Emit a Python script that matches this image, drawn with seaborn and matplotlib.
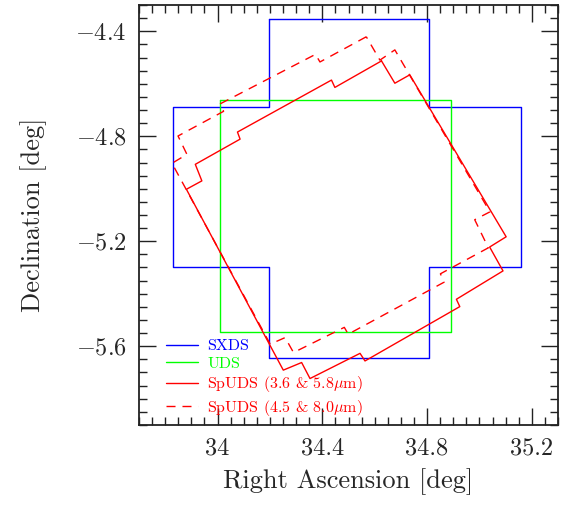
import matplotlib
matplotlib.use("Agg")
import matplotlib.pyplot as plt
from matplotlib.ticker import MultipleLocator
import seaborn as sns
import pandas as pd

# ---- data (RA, Dec in degrees) ----
sxds_ra = [34.195, 34.807, 34.807, 35.160, 35.160, 34.807, 34.807, 34.195, 34.195, 33.830, 33.830, 34.195, 34.195]
sxds_dec = [-4.355, -4.355, -4.690, -4.690, -5.300, -5.300, -5.645, -5.645, -5.300, -5.300, -4.690, -4.690, -4.355]

uds_ra = [34.008, 34.890, 34.890, 34.008, 34.008]
uds_dec = [-4.662, -4.662, -5.544, -5.544, -4.662]

spuds_a_ra = [34.626, 34.448, 34.435, 34.076, 34.086, 33.915, 33.940, 33.881, 34.251, 34.321, 34.353,
              34.544, 34.563, 34.925, 34.912, 35.090, 35.039, 35.102, 34.734, 34.677, 34.626]
spuds_a_dec = [-4.513, -4.614, -4.586, -4.784, -4.811, -4.907, -4.970, -5.002, -5.691, -5.662, -5.723,
               -5.627, -5.656, -5.449, -5.421, -5.313, -5.222, -5.183, -4.566, -4.598, -4.513]

spuds_b_ra = [34.568, 34.391, 34.374, 34.011, 34.023, 33.849, 33.883, 33.826, 34.201, 34.258, 34.290,
              34.484, 34.499, 34.865, 34.851, 35.034, 34.982, 35.040, 34.677, 34.620, 34.568]
spuds_b_dec = [-4.421, -4.517, -4.488, -4.676, -4.705, -4.799, -4.869, -4.903, -5.592, -5.567, -5.624,
               -5.528, -5.554, -5.356, -5.324, -5.225, -5.118, -5.088, -4.471, -4.510, -4.421]

labels = ["SXDS", "UDS", r"SpUDS (3.6 & 5.8$\mu$m)", r"SpUDS (4.5 & 8.0$\mu$m)"]
colors = ["#0000ff", "#00ff00", "#ff0000", "#ff0000"]

xticks = [34.0, 34.4, 34.8, 35.2]
xticklabels = ["34", "34.4", "34.8", "35.2"]
yticks = [-5.6, -5.2, -4.8, -4.4]

sns.set_style("ticks")
plt.rcParams["font.family"] = ["cmr10", "DejaVu Serif"]
plt.rcParams["mathtext.fontset"] = "cm"
plt.rcParams["axes.formatter.use_mathtext"] = True
plt.rcParams["lines.scale_dashes"] = False

fig = plt.figure(figsize=(5.73, 5.05), dpi=100)
ax = fig.add_axes([139 / 573, 1 - 425 / 505, 419 / 573, 420 / 505])

series = [(sxds_ra, sxds_dec), (uds_ra, uds_dec), (spuds_a_ra, spuds_a_dec), (spuds_b_ra, spuds_b_dec)]
styles = ["-", "-", "-", (0, (6.5, 5.0))]
for (ra, dec), lab, col, ls in zip(series, labels, colors, styles):
    df = pd.DataFrame({"ra": ra, "dec": dec})
    sns.lineplot(data=df, x="ra", y="dec", sort=False, estimator=None, color=col,
                 linewidth=1.0, linestyle=ls, label=lab, ax=ax)

ax.set_xlim(33.7, 35.3)
ax.set_ylim(-5.9, -4.3)
ax.set_xticks(xticks)
ax.set_xticklabels(xticklabels)
ax.set_yticks(yticks)
ax.xaxis.set_minor_locator(MultipleLocator(0.05))
ax.yaxis.set_minor_locator(MultipleLocator(0.05))
ax.tick_params(which="both", direction="in", top=True, right=True, color="#222222")
ax.tick_params(which="major", length=12.5, width=1.0, labelsize=17.5, pad=9)
ax.tick_params(which="minor", length=6, width=1.0)
for sp in ax.spines.values():
    sp.set_linewidth(1.3)
    sp.set_color("#222222")

ax.set_xlabel("Right Ascension [deg]", fontsize=19, labelpad=6)
ax.set_ylabel("Declination [deg]", fontsize=19, labelpad=20)

leg = ax.legend(loc="lower left", bbox_to_anchor=(0.064, 0.017), frameon=False, fontsize=11.5,
                handlelength=2.0, handletextpad=0.6, labelspacing=0.22, borderpad=0,
                borderaxespad=0, labelcolor="linecolor")

fig.savefig("out.png", dpi=100)
